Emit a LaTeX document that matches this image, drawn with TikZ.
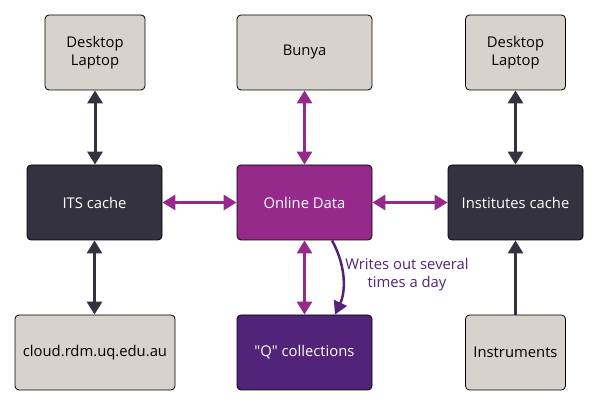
\documentclass[tikz,border=0pt]{standalone}
\usepackage{fontspec}
\newfontfamily\oss{Open Sans}
\usetikzlibrary{arrows.meta}
\definecolor{uqgray}{HTML}{D7D2CB}
\definecolor{uqdark}{HTML}{34323F}
\definecolor{uqmag}{HTML}{962A8B}
\definecolor{uqpurple}{HTML}{51247A}
\tikzset{
  box/.style={draw=black, line width=0.8pt, rounded corners=4pt, minimum height=75pt, align=center, font=\oss\fontsize{14.8}{18}\selectfont, inner sep=0pt},
  graybox/.style={box, fill=uqgray, text=black},
  darkbox/.style={box, fill=uqdark, text=white},
  magbox/.style={box, fill=uqmag, text=white},
  purpbox/.style={box, fill=uqpurple, text=white},
  tip/.tip={Triangle[width=15pt,length=13pt]},
  darkarrow/.style={uqdark, line width=3pt, {tip}-{tip}},
  magarrow/.style={uqmag, line width=3pt, {tip}-{tip}},
}
\begin{document}
\begin{tikzpicture}[x=1pt,y=1pt]
\useasboundingbox (0,0) rectangle (598,406);
\node[graybox, minimum width=100pt] (dl) at (95,353.5) {Desktop\\Laptop};
\node[graybox, minimum width=135pt] (bunya) at (304.5,353.5) {Bunya};
\node[graybox, minimum width=100pt] (dr) at (515.5,353.5) {Desktop\\Laptop};
\node[darkbox, minimum width=135pt] (its) at (94.5,203.5) {ITS cache};
\node[magbox, minimum width=135pt] (online) at (304.5,203.5) {Online Data};
\node[darkbox, minimum width=135pt] (inst) at (515.5,203.5) {Institutes cache};
\node[graybox, minimum width=160pt] (cloud) at (95,53.5) {cloud.rdm.uq.edu.au};
\node[purpbox, minimum width=135pt] (q) at (304.5,53.5) {"Q" collections};
\node[graybox, minimum width=100pt] (instr) at (515.5,53.5) {Instruments};

\draw[darkarrow] (dl.south) -- (dl.south |- its.north);
\draw[darkarrow] (its.south) -- (its.south |- cloud.north);
\draw[darkarrow] (dr.south) -- (dr.south |- inst.north);
\draw[uqdark, line width=3pt, -{tip}] (instr.north) -- (instr.north |- inst.south);
\draw[magarrow] (bunya.south) -- (online.north);
\draw[magarrow] (online.south) -- (q.north);
\draw[magarrow] (its.east) -- (online.west);
\draw[magarrow] (online.east) -- (inst.west);

\coordinate (cs) at ([xshift=27.5pt]online.south);
\coordinate (ce) at ([xshift=30.5pt]q.north);
\draw[uqpurple, line width=2.5pt, -{Triangle[width=14pt,length=13pt]}] (cs) .. controls (346,140) and (346,115) .. (ce);
\node[text=uqpurple, align=center, font=\oss\fontsize{14.8}{18}\selectfont] (lbl) at (407,131) {Writes out several\\times a day};
\end{tikzpicture}
\end{document}
